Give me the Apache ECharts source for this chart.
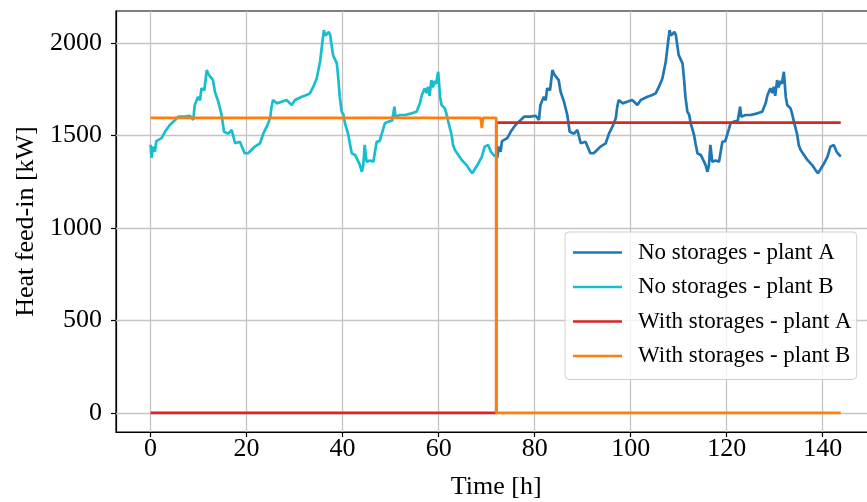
<!DOCTYPE html>
<html>
<head>
<meta charset="utf-8">
<script src="https://cdn.jsdelivr.net/npm/echarts@6/dist/echarts.min.js"></script>
<style>
html, body { margin: 0; padding: 0; background: #fff; }
#main { width: 867px; height: 502px; }
</style>
</head>
<body>
<div id="main"></div>
<script>
// hours / kW
var timeB = [0.0,0.2,0.5,0.9,1.2,1.6,2.3,3.0,4.0,5.1,
    5.8,7.1,8.2,8.9,9.2,9.9,10.3,10.6,11.2,11.7,
    12.1,12.4,13.0,13.4,14.1,14.8,15.3,16.2,16.9,17.6,
    18.6,19.6,20.3,21.0,21.7,22.8,23.5,24.2,24.9,25.2,
    25.5,26.3,27.3,28.3,29.4,30.1,31.5,32.5,33.2,33.9,
    34.6,35.3,35.8,36.1,36.4,36.7,37.1,37.4,37.7,38.0,
    38.8,39.1,39.4,39.8,40.2,40.5,41.2,41.5,41.9,42.6,
    43.3,43.6,44.0,44.3,44.6,45.0,45.7,46.4,47.1,47.7,
    48.5,48.8,49.5,50.3,50.8,51.0,51.9,53.0,54.4,55.4,
    56.1,56.5,56.8,57.1,57.5,57.8,58.1,58.5,58.8,59.2,
    59.5,59.9,60.3,60.6,61.3,61.6,62.0,62.7,63.0,63.4,
    64.1,64.8,65.8,66.5,67.0,67.6,68.3,69.0,69.6,70.3,
    70.9,71.3,71.75]
var heatB = [1450,1380,1440,1412,1470,1475,1486,1520,1557,1584,
    1602,1602,1607,1584,1665,1710,1690,1755,1745,1854,
    1830,1827,1800,1737,1683,1611,1520,1510,1530,1458,
    1466,1404,1404,1422,1440,1458,1512,1548,1593,1656,
    1692,1674,1683,1692,1665,1692,1710,1719,1728,1764,
    1809,1899,2007,2070,2040,2034,2060,2045,1989,1935,
    1890,1809,1710,1629,1611,1566,1503,1458,1404,1395,
    1358,1340,1304,1340,1449,1358,1365,1358,1466,1470,
    1539,1566,1575,1580,1656,1602,1611,1611,1620,1629,
    1674,1719,1728,1755,1730,1764,1715,1800,1760,1795,
    1780,1845,1710,1665,1647,1620,1575,1503,1449,1422,
    1395,1368,1340,1313,1296,1320,1350,1386,1440,1449,
    1412,1420,1386]

var timeA = [72.0,72.2,72.5,72.9,73.2,73.6,74.3,75.0,76.0,77.1,
    77.8,79.1,80.2,80.9,81.2,81.9,82.3,82.6,83.2,83.7,
    84.1,84.4,85.0,85.4,86.1,86.8,87.3,88.2,88.9,89.6,
    90.6,91.6,92.3,93.0,93.7,94.8,95.5,96.2,96.9,97.2,
    97.5,98.3,99.3,100.3,101.4,102.1,103.5,104.5,105.2,105.9,
    106.6,107.3,107.8,108.1,108.4,108.7,109.1,109.4,109.7,110.0,
    110.8,111.1,111.4,111.8,112.2,112.5,113.2,113.5,113.9,114.6,
    115.3,115.6,116.0,116.3,116.6,117.0,117.7,118.4,119.1,119.7,
    120.5,120.8,121.5,122.3,122.8,123.0,123.9,125.0,126.4,127.4,
    128.1,128.5,128.8,129.1,129.5,129.8,130.1,130.5,130.8,131.2,
    131.5,131.9,132.3,132.6,133.3,133.6,134.0,134.7,135.0,135.4,
    136.1,136.8,137.8,138.5,139.0,139.6,140.3,141.0,141.6,142.3,
    142.9,143.3,143.75]
var heatA = [1450,1380,1440,1412,1470,1475,1486,1520,1557,1584,
    1602,1602,1607,1584,1665,1710,1690,1755,1745,1854,
    1830,1827,1800,1737,1683,1611,1520,1510,1530,1458,
    1466,1404,1404,1422,1440,1458,1512,1548,1593,1656,
    1692,1674,1683,1692,1665,1692,1710,1719,1728,1764,
    1809,1899,2007,2070,2040,2034,2060,2045,1989,1935,
    1890,1809,1710,1629,1611,1566,1503,1458,1404,1395,
    1358,1340,1304,1340,1449,1358,1365,1358,1466,1470,
    1539,1566,1575,1580,1656,1602,1611,1611,1620,1629,
    1674,1719,1728,1755,1730,1764,1715,1800,1760,1795,
    1780,1845,1710,1665,1647,1620,1575,1503,1449,1422,
    1395,1368,1340,1313,1296,1320,1350,1386,1440,1449,
    1412,1420,1386]

var timeStoreA = [0, 72, 72, 143.75]
var heatStoreA = [0, 0, 1570, 1570]

var timeStoreB = [0, 48.5, 48.75, 49, 51, 51.25, 51.5, 54, 54.25, 54.5, 57, 57.25, 57.5,
    60, 60.25, 60.5, 63, 63.25, 63.5, 66, 66.25, 66.5, 68.75, 69, 69.25,
    70.5, 70.75, 71, 72, 72, 143.75]
var heatStoreB = [1595, 1595, 1585, 1595, 1595, 1585, 1595, 1595, 1587, 1595, 1595, 1587, 1595,
    1595, 1587, 1595, 1595, 1587, 1595, 1595, 1587, 1595, 1595, 1540, 1595,
    1595, 1585, 1595, 1595, 0, 0]

var xTicks = [0, 20, 40, 60, 80, 100, 120, 140]
var yTicks = [0, 500, 1000, 1500, 2000]

var seriesNames = ['No storages - plant A', 'No storages - plant B',
    'With storages - plant A', 'With storages - plant B']
var seriesColors = ['#1f77b4', '#17becf', '#d62728', '#ff7f0e']

var chartHeat = () => {
    var element = document.querySelector('#main')
    var myChart = echarts.init(element)

    var pairs = (t, v) => t.map((x, i) => [x, v[i]])
    var font = 'Liberation Serif'

    var gridLines = xTicks.map(v => ({ xAxis: v })).concat(yTicks.map(v => ({ yAxis: v })))

    var lineSeries = (name, color, data) => ({
        name: name,
        type: 'line',
        data: data,
        showSymbol: false,
        symbol: 'none',
        color: color,
        lineStyle: { color: color, width: 2.7 },
        animation: false,
    })

    var series = [
        lineSeries(seriesNames[0], seriesColors[0], pairs(timeA, heatA)),
        lineSeries(seriesNames[1], seriesColors[1], pairs(timeB, heatB)),
        lineSeries(seriesNames[2], seriesColors[2], pairs(timeStoreA, heatStoreA)),
        lineSeries(seriesNames[3], seriesColors[3], pairs(timeStoreB, heatStoreB)),
    ]
    // grid lines at the tick values
    series[0].markLine = {
        silent: true,
        z: 1,
        symbol: 'none',
        label: { show: false },
        lineStyle: { color: '#c4c4c4', width: 1.3, type: 'solid' },
        emphasis: { disabled: true },
        animation: false,
        data: gridLines,
    }

    var option = {
        animation: false,
        grid: {
            left: 116, top: 11, width: 760.5, height: 421,
            outerBoundsMode: 'none',
            containLabel: false,
            show: true, borderColor: '#000', borderWidth: 1.2,
        },
        legend: {
            data: seriesNames,
            orient: 'vertical',
            left: 565, top: 232,
            icon: 'rect',
            itemWidth: 49, itemHeight: 2.5,
            itemGap: 11.5,
            padding: [9, 5, 12, 8],
            backgroundColor: 'rgba(255,255,255,0.8)',
            borderColor: '#d0d0d0', borderWidth: 1, borderRadius: 4,
            textStyle: { fontFamily: font, fontSize: 23, lineHeight: 23, color: '#000', padding: [0, 0, 0, 11] },
        },
        xAxis: {
            type: 'value',
            min: -7.2, max: 151.2,
            name: 'Time [h]',
            nameLocation: 'middle',
            nameGap: 42,
            nameTextStyle: { fontFamily: font, fontSize: 26, color: '#000' },
            axisLine: { show: true, onZero: false, lineStyle: { color: '#000', width: 1.2 } },
            axisTick: { show: true, customValues: xTicks, length: 5, lineStyle: { color: '#000', width: 1.2 } },
            axisLabel: { customValues: xTicks, margin: 4, fontFamily: font, fontSize: 26, color: '#000' },
            splitLine: { show: false },
        },
        yAxis: {
            type: 'value',
            min: -103.5, max: 2173.5,
            name: 'Heat feed-in [kW]',
            nameLocation: 'middle',
            nameRotate: 90,
            nameGap: 72,
            nameTextStyle: { fontFamily: font, fontSize: 26, color: '#000' },
            axisLine: { show: true, onZero: false, lineStyle: { color: '#000', width: 1.2 } },
            axisTick: { show: true, customValues: yTicks, length: 5, lineStyle: { color: '#000', width: 1.2 } },
            axisLabel: {
                customValues: yTicks, margin: 14, fontFamily: font, fontSize: 26, color: '#000',
                formatter: (v) => String(v),
            },
            splitLine: { show: false },
        },
        series: series,
    }

    myChart.setOption(option)
}

chartHeat()
</script>
</body>
</html>
